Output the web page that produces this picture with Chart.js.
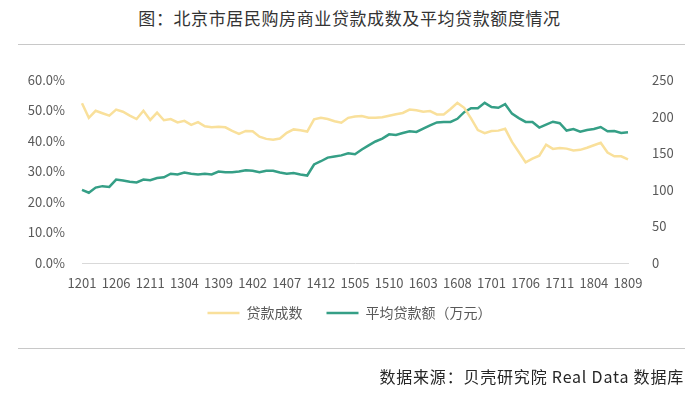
<!DOCTYPE html>
<html>
<head>
<meta charset="utf-8">
<script src="https://cdn.jsdelivr.net/npm/chart.js@4"></script>
<style>
  html, body { margin: 0; padding: 0; background: #fff; }
  #wrap { position: relative; width: 699px; height: 395px; overflow: hidden;
          font-family: "Noto Sans CJK SC", "Noto Sans", sans-serif; }
  #title { position: absolute; left: 0; width: 699px; top: 7px; text-align: center;
           font-size: 17px; letter-spacing: 0.6px; color: #333; line-height: 22px; }
  .rule { position: absolute; left: 18px; width: 667px; height: 1px; background: #c8c8c8; }
  #source { position: absolute; right: 15px; top: 365px; font-size: 16px; letter-spacing: 0.8px;
            color: #262626; line-height: 22px; }
  canvas { position: absolute; left: 0; top: 0; }
</style>
</head>
<body>
<div id="wrap">
  <div id="title">图：北京市居民购房商业贷款成数及平均贷款额度情况</div>
  <div class="rule" style="top:44px"></div>
  <canvas id="chart" width="699" height="395"></canvas>
  <div class="rule" style="top:348px"></div>
  <div id="source">数据来源：贝壳研究院 Real Data 数据库</div>
</div>
<script>
// months 2012-01 .. 2018-09
const months = [
  '1201','1202','1203','1204','1205','1206','1207','1208','1209','1210','1211','1212',
  '1301','1302','1303','1304','1305','1306','1307','1308','1309','1310','1311','1312',
  '1401','1402','1403','1404','1405','1406','1407','1408','1409','1410','1411','1412',
  '1501','1502','1503','1504','1505','1506','1507','1508','1509','1510','1511','1512',
  '1601','1602','1603','1604','1605','1606','1607','1608','1609','1610','1611','1612',
  '1701','1702','1703','1704','1705','1706','1707','1708','1709','1710','1711','1712',
  '1801','1802','1803','1804','1805','1806','1807','1808','1809'
];

// 贷款成数 (%)
const loanRatio = [
  52.4, 47.6, 49.9, 49.1, 48.3, 50.3, 49.6, 48.3, 47.2, 49.9, 46.9, 49.3,
  46.8, 47.2, 46.1, 46.6, 45.3, 46.2, 44.8, 44.5, 44.7, 44.5, 43.3, 42.3,
  43.3, 43.2, 41.4, 40.7, 40.4, 40.8, 42.7, 43.8, 43.5, 43.1, 47.1, 47.6,
  47.2, 46.5, 46.0, 47.6, 48.0, 48.2, 47.6, 47.6, 47.8, 48.3, 48.8, 49.2,
  50.3, 50.1, 49.6, 49.8, 48.7, 48.7, 50.5, 52.5, 50.9, 47.4, 43.6, 42.6,
  43.3, 43.4, 44.0, 39.7, 36.4, 33.0, 34.2, 35.2, 38.8, 37.4, 37.7, 37.5,
  36.9, 37.1, 37.8, 38.6, 39.4, 36.2, 35.0, 35.0, 34.0
];

// 平均贷款额（万元）
const avgLoan = [
  100, 96, 103, 105, 104, 114, 112.6, 111, 110, 114, 113, 116,
  117, 122, 121, 123.6, 122, 121, 122, 121, 125, 124, 124, 125,
  126.8, 126, 124, 126, 126, 123.6, 122, 123, 121, 119.5, 134.6, 139,
  144, 145.6, 147, 150, 148.5, 155, 160.7, 166, 170, 175.8, 175, 177.6,
  180, 179, 183.6, 188, 192, 192.7, 192.7, 197, 206, 211.5, 211.5, 218.8,
  213, 212, 217, 204, 198, 192.7, 192.7, 185, 189, 193, 191, 181,
  183, 179.5, 181.7, 183, 185.8, 180, 180.3, 177.6, 178.6
];

const leftTicks = [0, 10, 20, 30, 40, 50, 60];
const rightTicks = [0, 50, 100, 150, 200, 250];

const tickFont = { family: '"Noto Sans CJK SC", "Noto Sans", sans-serif', size: 13 };

// pull the legend up a bit closer to the x labels
const legendNudge = {
  id: 'legendNudge',
  afterLayout(chart) {
    if (chart.legend) {
      chart.legend.top -= 13;
      chart.legend.bottom -= 13;
    }
  }
};

new Chart(document.getElementById('chart'), {
  type: 'line',
  data: {
    labels: months,
    datasets: [
      {
        label: '贷款成数',
        data: loanRatio,
        yAxisID: 'y',
        borderColor: '#f9e09b',
        backgroundColor: '#f9e09b',
        borderWidth: 2.5,
        pointRadius: 0,
        tension: 0
      },
      {
        label: '平均贷款额（万元）',
        data: avgLoan,
        yAxisID: 'y1',
        borderColor: '#359f86',
        backgroundColor: '#359f86',
        borderWidth: 2.5,
        pointRadius: 0,
        tension: 0
      }
    ]
  },
  plugins: [legendNudge],
  options: {
    responsive: false,
    animation: false,
    layout: { padding: { top: 80, left: 0, right: 0, bottom: 52 } },
    plugins: {
      tooltip: { enabled: false },
      legend: {
        position: 'bottom',
        labels: {
          usePointStyle: true,
          pointStyle: 'line',
          pointStyleWidth: 32,
          padding: 24,
          color: '#595959',
          font: { family: '"Noto Sans CJK SC", sans-serif', size: 14 }
        }
      }
    },
    scales: {
      x: {
        offset: false,
        grid: { display: false, drawTicks: false },
        border: { display: true, color: '#d9d9d9', width: 1 },
        ticks: {
          autoSkip: false,
          maxRotation: 0,
          padding: 12,
          color: '#595959',
          font: tickFont,
          callback: function (v, i) { return i % 5 === 0 ? months[i] : null; }
        },
        afterFit: function (s) { s.height = 32; }
      },
      y: {
        position: 'left',
        min: 0, max: 60,
        grid: { display: false, drawTicks: false },
        border: { display: false },
        afterBuildTicks: function (s) { s.ticks = leftTicks.map(v => ({ value: v })); },
        ticks: {
          padding: 17,
          color: '#595959',
          font: tickFont,
          callback: function (v) { return v.toFixed(1) + '%'; }
        },
        afterFit: function (s) { s.width = 82; }
      },
      y1: {
        position: 'right',
        min: 0, max: 250,
        grid: { display: false, drawTicks: false },
        border: { display: false },
        afterBuildTicks: function (s) { s.ticks = rightTicks.map(v => ({ value: v })); },
        ticks: {
          padding: 24,
          color: '#595959',
          font: tickFont
        },
        afterFit: function (s) { s.width = 71; }
      }
    }
  }
});
</script>
</body>
</html>
